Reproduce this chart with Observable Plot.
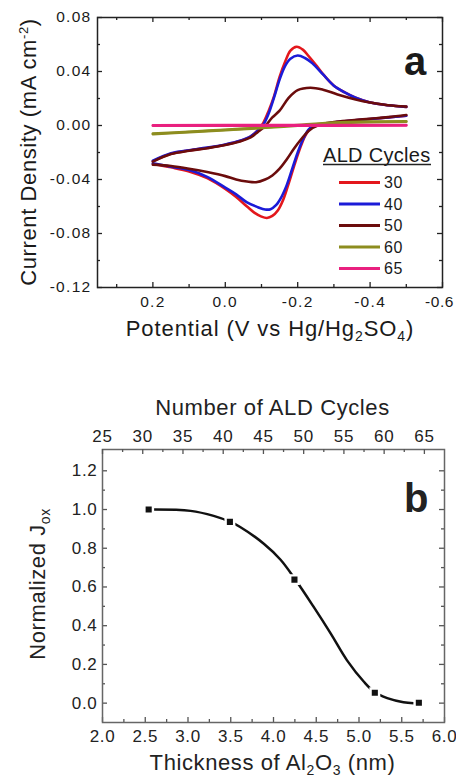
<!DOCTYPE html>
<html><head><meta charset="utf-8">
<script src="https://cdn.jsdelivr.net/npm/d3@7"></script>
<script src="https://cdn.jsdelivr.net/npm/@observablehq/plot@0.6"></script>
<style>
body{margin:0;background:#fff;overflow:hidden;}
#wrap{position:relative;width:456px;height:778px;overflow:hidden;background:#fff;}
#wrap svg{position:absolute;left:0;}
</style></head><body><div id="wrap"></div>
<script>
// ---------- Panel a data: cyclic voltammograms ----------
const cycles = ["30", "40", "50", "60", "65"];
const colors = ["#e3171c", "#1b1bd8", "#6b0c0c", "#8d8d1f", "#e9207f"];

const pot30 = [0.2, 0.15, 0.1, 0.05, 0.0, -0.04, -0.07, -0.09, -0.105, -0.12, -0.135, -0.15, -0.165, -0.18, -0.197, -0.215, -0.23, -0.25, -0.27, -0.3, -0.33, -0.36, -0.4, -0.45, -0.5,
  -0.5, -0.45, -0.4, -0.35, -0.3, -0.27, -0.25, -0.235, -0.22, -0.205, -0.19, -0.175, -0.16, -0.145, -0.13, -0.115, -0.1, -0.08, -0.06, -0.03, 0.0, 0.05, 0.1, 0.15, 0.2];
const cur30 = [-0.0265, -0.021, -0.0185, -0.0166, -0.0142, -0.0115, -0.0082, -0.0035, 0.002, 0.011, 0.022, 0.036, 0.047, 0.0555, 0.0583, 0.056, 0.0515, 0.045, 0.038, 0.0295, 0.0245, 0.0205, 0.017, 0.015, 0.0138,
  0.0072, 0.006, 0.0048, 0.0036, 0.0022, 0.001, 0.0003, -0.002, -0.008, -0.018, -0.030, -0.043, -0.055, -0.063, -0.067, -0.0685, -0.0675, -0.0645, -0.060, -0.053, -0.047, -0.039, -0.034, -0.031, -0.0285];

const pot40 = [0.2, 0.15, 0.1, 0.05, 0.0, -0.04, -0.07, -0.09, -0.105, -0.12, -0.135, -0.15, -0.165, -0.18, -0.2, -0.22, -0.24, -0.27, -0.3, -0.33, -0.36, -0.4, -0.45, -0.5,
  -0.5, -0.45, -0.4, -0.35, -0.3, -0.27, -0.245, -0.23, -0.215, -0.2, -0.185, -0.17, -0.155, -0.14, -0.125, -0.11, -0.09, -0.06, -0.03, 0.0, 0.05, 0.1, 0.15, 0.2];
const cur40 = [-0.026, -0.0205, -0.0183, -0.0164, -0.014, -0.0113, -0.008, -0.0037, 0.0005, 0.009, 0.021, 0.034, 0.044, 0.0495, 0.0518, 0.05, 0.0462, 0.0378, 0.0295, 0.0245, 0.0205, 0.017, 0.015, 0.0138,
  0.0072, 0.006, 0.0048, 0.0036, 0.0022, 0.001, 0.0003, -0.003, -0.010, -0.020, -0.032, -0.044, -0.053, -0.059, -0.062, -0.0622, -0.0605, -0.057, -0.051, -0.046, -0.038, -0.033, -0.0305, -0.028];

const pot50 = [0.2, 0.15, 0.1, 0.05, 0.0, -0.04, -0.07, -0.09, -0.11, -0.13, -0.15, -0.175, -0.2, -0.235, -0.27, -0.31, -0.36, -0.4, -0.45, -0.5,
  -0.5, -0.45, -0.4, -0.35, -0.3, -0.26, -0.23, -0.21, -0.19, -0.17, -0.15, -0.13, -0.11, -0.085, -0.06, -0.03, 0.0, 0.05, 0.1, 0.15, 0.2];
const cur50 = [-0.0268, -0.0212, -0.0187, -0.0168, -0.0145, -0.0118, -0.0088, -0.0048, -0.0005, 0.006, 0.011, 0.0205, 0.0262, 0.028, 0.0265, 0.023, 0.0193, 0.017, 0.015, 0.014,
  0.0078, 0.0062, 0.005, 0.0038, 0.0025, 0.0005, -0.004, -0.010, -0.017, -0.025, -0.032, -0.037, -0.040, -0.042, -0.0415, -0.040, -0.0375, -0.0345, -0.032, -0.030, -0.029];

const pot60 = [0.2, 0.1, 0.0, -0.1, -0.2, -0.3, -0.4, -0.5, -0.5, -0.4, -0.3, -0.2, -0.1, 0.0, 0.1, 0.2];
const cur60 = [-0.006, -0.0046, -0.0031, -0.0016, 0.0004, 0.0022, 0.003, 0.0032, 0.0028, 0.0025, 0.0016, -0.0001, -0.0019, -0.0034, -0.0049, -0.0064];

const pot65 = [0.2, -0.15, -0.5, -0.5, -0.15, 0.2];
const cur65 = [0.0002, 0.0003, 0.0004, 0.0, -0.0001, -0.0002];

const potA = [pot30, pot40, pot50, pot60, pot65];
const curA = [cur30, cur40, cur50, cur60, cur65];

const xMajorA = [0.2, 0.0, -0.2, -0.4, -0.6];
const xMinorA = [0.3, 0.1, -0.1, -0.3, -0.5];
const yMajorA = [0.08, 0.04, 0.0, -0.04, -0.08, -0.12];
const yMinorA = [0.06, 0.02, -0.02, -0.06, -0.10];

// ---------- Panel b data ----------
const thickness = [2.54, 3.49, 4.245, 5.185, 5.70];
const normJox = [1.0, 0.936, 0.638, 0.054, 0.002];
const fitThickness = [2.6, 3.03, 3.3, 3.49, 3.61, 3.89, 4.08, 4.245, 4.47, 4.67, 4.86, 5.06, 5.185, 5.33, 5.52, 5.64];
const fitJox = [1.0, 0.993, 0.967, 0.937, 0.91, 0.822, 0.742, 0.645, 0.497, 0.359, 0.221, 0.109, 0.056, 0.026, 0.005, 0.0];

const xMajorB = [2.0, 2.5, 3.0, 3.5, 4.0, 4.5, 5.0, 5.5, 6.0];
const xMinorB = [2.25, 2.75, 3.25, 3.75, 4.25, 4.75, 5.25, 5.75];
const yMajorB = [0.0, 0.2, 0.4, 0.6, 0.8, 1.0, 1.2];
const yMinorB = [0.1, 0.3, 0.5, 0.7, 0.9, 1.1];
const cycMajor = [25, 30, 35, 40, 45, 50, 55, 60, 65];
const cycMinor = [27.5, 32.5, 37.5, 42.5, 47.5, 52.5, 57.5, 62.5];

const W = 456;
const FONT = "'Liberation Sans', Arial, Helvetica, sans-serif";
const wrap = document.getElementById("wrap");

function edgeTicks(xs, ys, iw, ih, color, sides) {
  const m = [];
  const big = 5, small = 3;
  const o = {stroke: color, strokeWidth: 1.3};
  if (xs) {
    if (sides.bottom) {
      m.push(Plot.tickX(xs.major, {x: d => d, insetTop: ih - big, ...o}));
      m.push(Plot.tickX(xs.minor, {x: d => d, insetTop: ih - small, ...o}));
    }
    if (sides.top) {
      m.push(Plot.tickX(xs.major, {x: d => d, insetBottom: ih - big, ...o}));
      m.push(Plot.tickX(xs.minor, {x: d => d, insetBottom: ih - small, ...o}));
    }
  }
  if (ys) {
    m.push(Plot.tickY(ys.major, {y: d => d, insetRight: iw - big, ...o}));
    m.push(Plot.tickY(ys.major, {y: d => d, insetLeft: iw - big, ...o}));
    m.push(Plot.tickY(ys.minor, {y: d => d, insetRight: iw - small, ...o}));
    m.push(Plot.tickY(ys.minor, {y: d => d, insetLeft: iw - small, ...o}));
  }
  return m;
}

function styleTickLabels(svg, size, ls) {
  d3.select(svg).selectAll('g[aria-label$="tick label"]').style("font-size", size);
  d3.select(svg).selectAll('g[aria-label$="tick label"] text').style("font-size", size).style("letter-spacing", ls);
}

// ---------- Panel a ----------
const aH = 370, aMT = 17, aMB = 83, aML = 97, aMR = 14;
const aIH = aH - aMT - aMB, aIW = W - aML - aMR;
const plotA = Plot.plot({
  width: W, height: aH,
  marginTop: aMT, marginBottom: aMB, marginLeft: aML, marginRight: aMR,
  style: {fontFamily: FONT, fontSize: "15px", color: "#1a1a1a", background: "transparent", overflow: "visible"},
  x: {domain: [0.353, -0.6]},
  y: {domain: [-0.12, 0.08]},
  marks: [
    ...potA.map((p, k) => {
      const turn = p.indexOf(d3.min(p)) + 1;
      return Plot.line(d3.range(p.length), {
        x: i => p[i], y: i => curA[k][i], z: i => (i < turn ? 0 : 1),
        stroke: colors[k], strokeWidth: 2.6, curve: "catmull-rom"
      });
    }),
    ...edgeTicks({major: xMajorA, minor: xMinorA}, {major: yMajorA, minor: yMinorA}, aIW, aIH, "#222", {top: true, bottom: true}),
    Plot.frame({stroke: "#222", strokeWidth: 1.5}),
    Plot.axisX({ticks: xMajorA, tickFormat: d => d.toFixed(1), tickSize: 0, tickPadding: 8, label: null}),
    Plot.axisY({ticks: yMajorA, tickFormat: d => d.toFixed(2), tickSize: 0, tickPadding: 6, label: null})
  ]
});
plotA.style.top = "0px";
wrap.appendChild(plotA);
styleTickLabels(plotA, "15.5px", "1.3px");
// keep the last bottom label ("-0.6") inside the page edge
{
  const xl = d3.select(plotA).selectAll('g[aria-label="x-axis tick label"] text').nodes();
  if (xl.length) d3.select(xl[xl.length - 1]).style("letter-spacing", "0.6px").attr("dx", -3);
}

const sA = d3.select(plotA);
{
  const t = sA.append("text").attr("transform", "translate(36,152) rotate(-90)").attr("text-anchor", "middle")
    .style("font-size", "22px").style("letter-spacing", "0.6px");
  t.append("tspan").text("Current Density (mA cm");
  t.append("tspan").attr("dy", -8).style("font-size", "13px").text("-2");
  t.append("tspan").attr("dy", 8).text(")");

  const x = sA.append("text").attr("x", 270).attr("y", 336).attr("text-anchor", "middle")
    .style("font-size", "22px").style("letter-spacing", "0.9px");
  x.append("tspan").text("Potential (V vs Hg/Hg");
  x.append("tspan").attr("dy", 5).style("font-size", "14px").text("2");
  x.append("tspan").attr("dy", -5).text("SO");
  x.append("tspan").attr("dy", 5).style("font-size", "14px").text("4");
  x.append("tspan").attr("dy", -5).text(")");

  sA.append("text").attr("x", 404).attr("y", 75).attr("text-anchor", "start")
    .style("font-size", "40px").style("font-weight", "bold").text("a");

  // legend
  sA.append("text").attr("x", 323).attr("y", 162).attr("text-anchor", "start")
    .style("font-size", "20px").style("letter-spacing", "0.3px").text("ALD Cycles");
  sA.append("line").attr("x1", 323).attr("x2", 431).attr("y1", 164.5).attr("y2", 164.5)
    .attr("stroke", "#222").attr("stroke-width", 1.4);
  cycles.forEach((c, k) => {
    const cy = 182.5 + k * 21.5;
    sA.append("line").attr("x1", 339).attr("x2", 380).attr("y1", cy).attr("y2", cy)
      .attr("stroke", colors[k]).attr("stroke-width", 2.8);
    sA.append("text").attr("x", 384).attr("y", cy + 5.8).attr("text-anchor", "start")
      .style("font-size", "16px").style("letter-spacing", "0.5px").text(c);
  });
}

// ---------- Panel b ----------
const bTop = 370;
const bH = 408, bMT = 79, bMB = 56, bML = 102, bMR = 12;
const bIH = bH - bMT - bMB, bIW = W - bML - bMR;
const plotB = Plot.plot({
  width: W, height: bH,
  marginTop: bMT, marginBottom: bMB, marginLeft: bML, marginRight: bMR,
  style: {fontFamily: FONT, fontSize: "16px", color: "#222", background: "transparent", overflow: "visible"},
  x: {domain: [2, 6]},
  y: {domain: [-0.1, 1.31]},
  marks: [
    Plot.line(d3.range(fitThickness.length), {x: i => fitThickness[i], y: i => fitJox[i], stroke: "#111", strokeWidth: 2.5, curve: "catmull-rom"}),
    Plot.dot(d3.range(thickness.length), {x: i => thickness[i], y: i => normJox[i], symbol: "square", r: 4.8, fill: "#111", stroke: "#fff", strokeWidth: 2.4}),
    ...edgeTicks({major: xMajorB, minor: xMinorB}, {major: yMajorB, minor: yMinorB}, bIW, bIH, "#555", {bottom: true}),
    Plot.frame({stroke: "#666", strokeWidth: 1.5}),
    Plot.axisX({ticks: xMajorB, tickFormat: d => d.toFixed(1), tickSize: 0, tickPadding: 7, label: null}),
    Plot.axisY({ticks: yMajorB, tickFormat: d => d.toFixed(1), tickSize: 0, tickPadding: 5, label: null})
  ]
});
plotB.style.top = bTop + "px";
wrap.appendChild(plotB);
styleTickLabels(plotB, "17px", "0.7px");

// top axis: number of ALD cycles
const plotC = Plot.plot({
  width: W, height: bH,
  marginTop: bMT, marginBottom: bMB, marginLeft: bML, marginRight: bMR,
  style: {fontFamily: FONT, fontSize: "16px", color: "#222", background: "transparent", overflow: "visible"},
  x: {domain: [25, 67.5]},
  marks: [
    Plot.tickX(cycMajor, {x: d => d, insetBottom: bIH - 5, stroke: "#555", strokeWidth: 1.3}),
    Plot.tickX(cycMinor, {x: d => d, insetBottom: bIH - 3, stroke: "#555", strokeWidth: 1.3}),
    Plot.axisX({anchor: "top", ticks: cycMajor, tickFormat: d => String(d), tickSize: 0, tickPadding: 8, label: null})
  ]
});
plotC.style.top = bTop + "px";
wrap.appendChild(plotC);
styleTickLabels(plotC, "17px", "0.7px");

const sB = d3.select(plotC);
{
  const t = sB.append("text").attr("transform", "translate(45,214) rotate(-90)").attr("text-anchor", "middle")
    .style("font-size", "22px").style("letter-spacing", "0.6px");
  t.append("tspan").text("Normalized J");
  t.append("tspan").attr("dy", 5).style("font-size", "14px").text("ox");

  sB.append("text").attr("x", 272.5).attr("y", 45).attr("text-anchor", "middle")
    .style("font-size", "22px").style("letter-spacing", "0.6px").text("Number of ALD Cycles");

  const x = sB.append("text").attr("x", 272.5).attr("y", 400).attr("text-anchor", "middle")
    .style("font-size", "22px").style("letter-spacing", "0.6px");
  x.append("tspan").text("Thickness of Al");
  x.append("tspan").attr("dy", 5).style("font-size", "14px").text("2");
  x.append("tspan").attr("dy", -5).text("O");
  x.append("tspan").attr("dy", 5).style("font-size", "14px").text("3");
  x.append("tspan").attr("dy", -5).text(" (nm)");

  sB.append("text").attr("x", 404).attr("y", 141.7).attr("text-anchor", "start")
    .style("font-size", "40px").style("font-weight", "bold").text("b");
}
</script></body></html>
